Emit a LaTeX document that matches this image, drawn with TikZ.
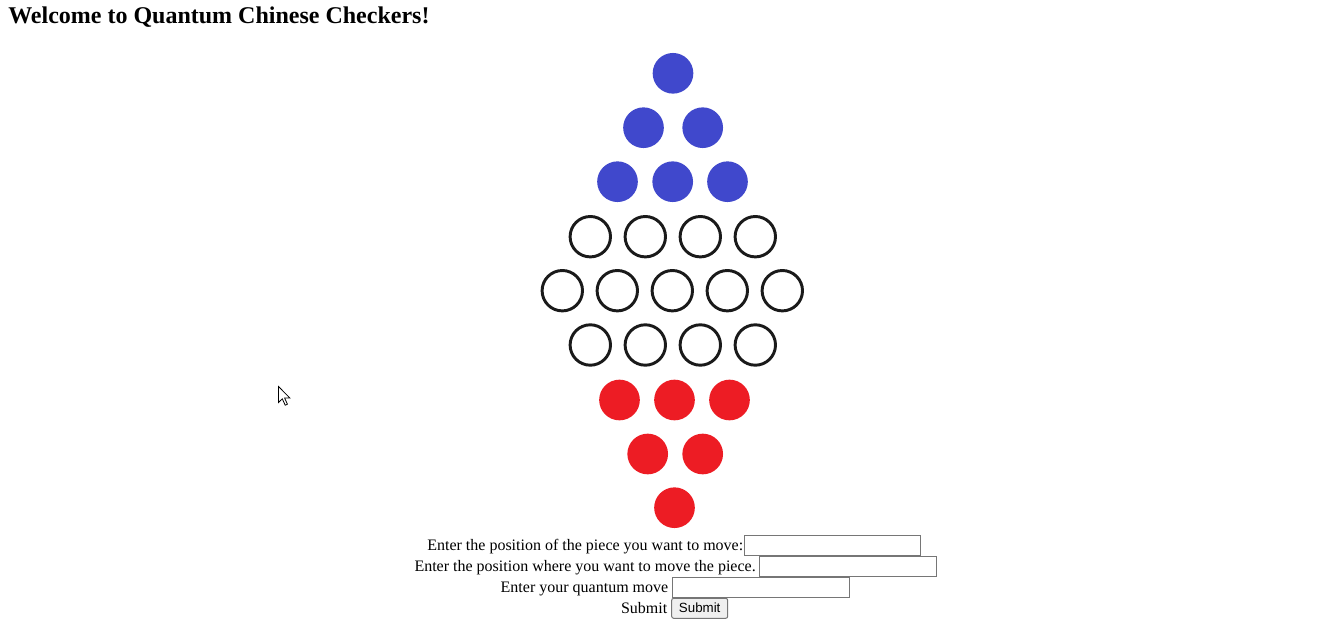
\documentclass[tikz,border=0pt]{standalone}
\usepackage{fontspec}
\setmainfont{Liberation Serif}
\newfontfamily\btnfont{Liberation Sans}
\definecolor{blueP}{RGB}{64,72,204}
\definecolor{redP}{RGB}{237,28,36}
\definecolor{ringC}{RGB}{26,26,26}
\definecolor{boxC}{RGB}{118,118,118}
\definecolor{btnF}{RGB}{239,239,239}
\tikzset{
  bluepiece/.style={circle,fill=blueP,draw=none,minimum size=30.5pt,inner sep=0pt},
  redpiece/.style={circle,fill=redP,draw=none,minimum size=30.5pt,inner sep=0pt},
  hole/.style={circle,draw=ringC,line width=2.2pt,fill=white,minimum size=30.3pt,inner sep=0pt},
  label/.style={inner sep=0pt,anchor=base east,font=\fontsize{12pt}{14pt}\selectfont},
  inbox/.style={draw=boxC,line width=0.75pt,fill=white},
}
\begin{document}
\begin{tikzpicture}[x=0.75pt,y=-0.75pt]
\useasboundingbox[fill=white] (0,0) rectangle (1343,624);
% title
\node[inner sep=0pt,anchor=base west,font=\fontsize{18pt}{20pt}\selectfont\bfseries] (title) at (8,23.8) {Welcome to Quantum Chinese Checkers!};
% blue pieces
\node[bluepiece] (b1) at (673,73.3) {};
\node[bluepiece] (b2) at (643.5,127.7) {};
\node[bluepiece] (b3) at (702.7,127.7) {};
\node[bluepiece] (b4) at (617.5,181.7) {};
\node[bluepiece] (b5) at (672.7,181.7) {};
\node[bluepiece] (b6) at (727.5,181.7) {};
% empty holes
\node[hole] (e1) at (590.3,236.7) {};
\node[hole] (e2) at (645.3,236.7) {};
\node[hole] (e3) at (700.3,236.7) {};
\node[hole] (e4) at (755.3,236.7) {};
\node[hole] (e5) at (562.3,290.7) {};
\node[hole] (e6) at (617.3,290.7) {};
\node[hole] (e7) at (672.3,290.7) {};
\node[hole] (e8) at (727.3,290.7) {};
\node[hole] (e9) at (782.3,290.7) {};
\node[hole] (e10) at (590.3,345) {};
\node[hole] (e11) at (645.3,345) {};
\node[hole] (e12) at (700.3,345) {};
\node[hole] (e13) at (755.3,345) {};
% red pieces
\node[redpiece] (r1) at (619.5,400) {};
\node[redpiece] (r2) at (674.5,400) {};
\node[redpiece] (r3) at (729.5,400) {};
\node[redpiece] (r4) at (647.7,454) {};
\node[redpiece] (r5) at (702.7,454) {};
\node[redpiece] (r6) at (674.5,507.7) {};
% form
\draw[inbox] (744.3,535.3) rectangle (920.7,555.5);
\draw[inbox] (759.5,556.5) rectangle (936,576.5);
\draw[inbox] (672.3,577.5) rectangle (849,597.5);
\draw[draw=boxC,line width=0.75pt,fill=btnF,rounded corners=1.5pt] (671.7,598.3) rectangle (727.7,618.3);
\node[label] (l1) at (743.5,550.8) {Enter the position of the piece you want to move:};
\node[label] (l2) at (756,571.8) {Enter the position where you want to move the piece.};
\node[label] (l3) at (668.5,592.8) {Enter your quantum move};
\node[label] (l4) at (667.5,613.8) {Submit};
\node[inner sep=0pt,anchor=base,font=\btnfont\fontsize{10pt}{12pt}\selectfont] (btn) at (699.7,612.8) {Submit};
% mouse cursor
\draw[black,fill=white,line width=0.6pt,line join=miter]
  (278.5,386.5) -- (278.5,402.5) -- (282.3,398.8) -- (285.2,405.2) -- (287.4,404.2) -- (284.6,398) -- (289.8,398) -- cycle;
\end{tikzpicture}
\end{document}
